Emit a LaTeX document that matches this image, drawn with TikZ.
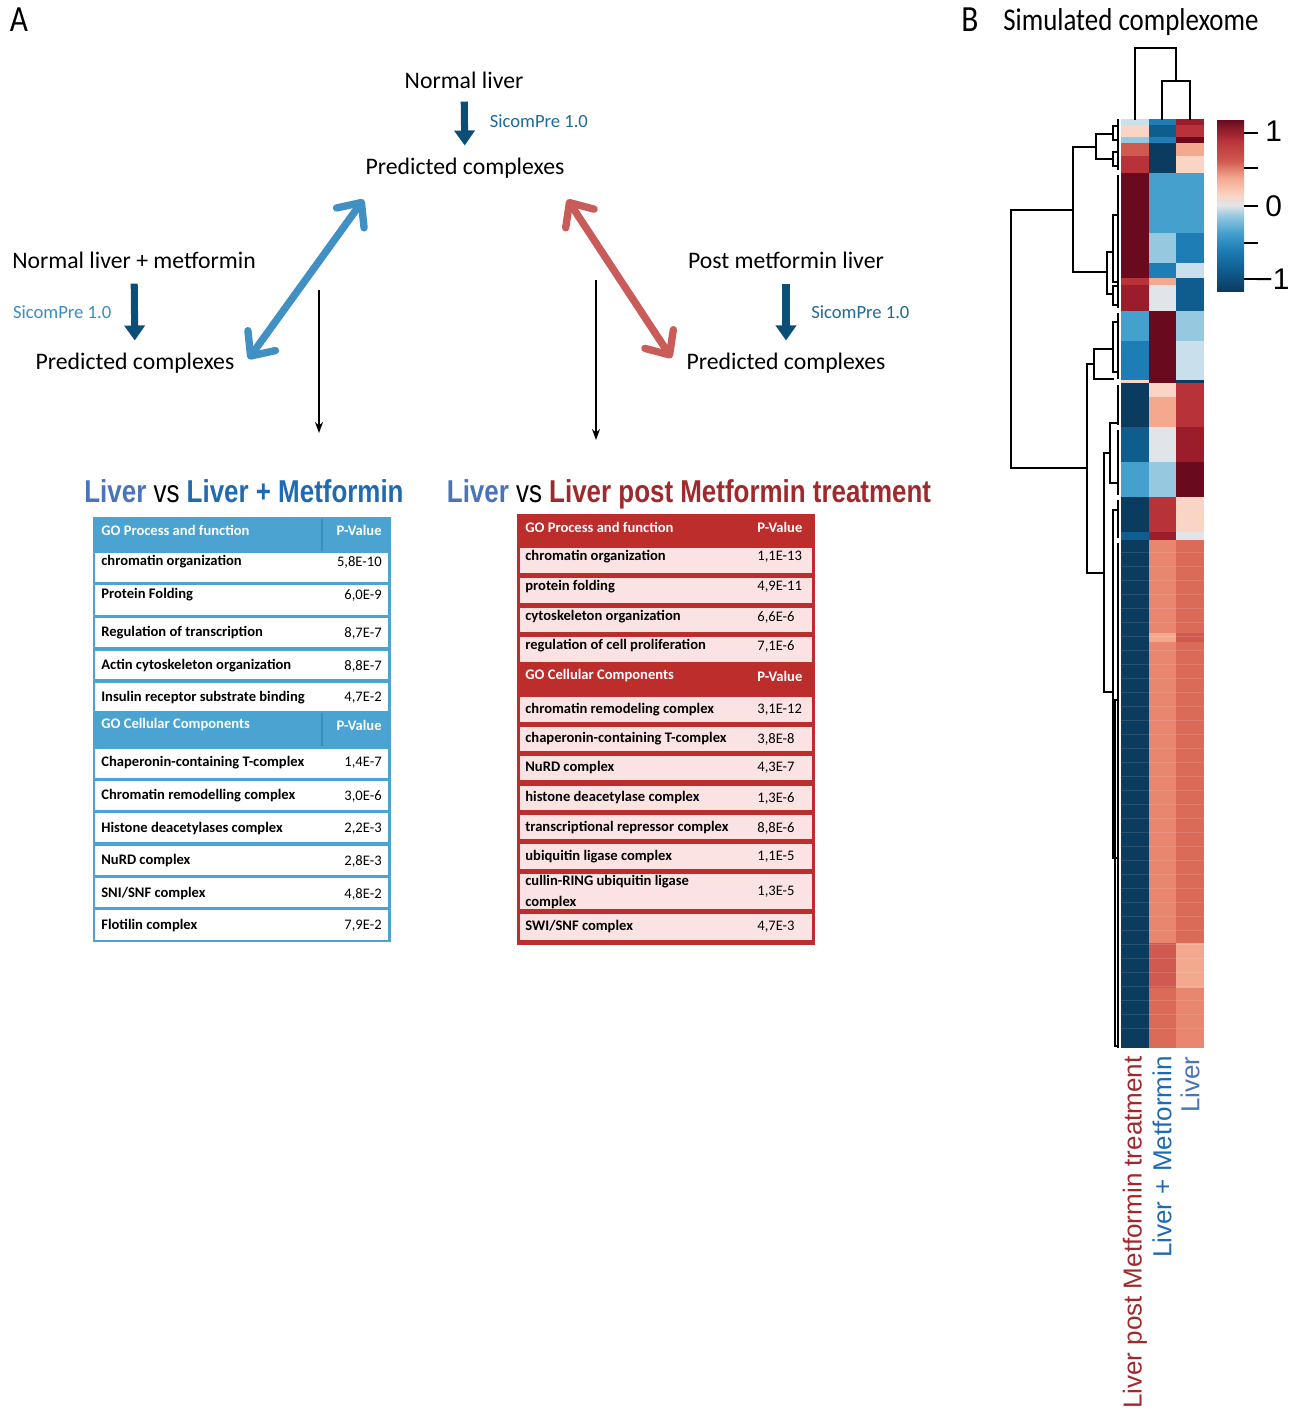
\documentclass[tikz,border=0pt]{standalone}
\usepackage{fontspec}
\setmainfont{Carlito}
\newfontfamily\arialfont{Liberation Sans}
\newfontfamily\narrowfont[FakeStretch=0.82]{Liberation Sans}
\newfontfamily\condfont[FakeStretch=0.85]{Carlito}
\usetikzlibrary{arrows.meta, positioning, calc}

\definecolor{sicomdark}{HTML}{0B4F78}
\definecolor{sicomtext}{HTML}{1D6A98}
\definecolor{sicomlight}{HTML}{3A8CC2}
\definecolor{cmpblue}{HTML}{4190C4}
\definecolor{cmpred}{HTML}{C95B58}
\definecolor{tblblue}{HTML}{4BA3D1}
\definecolor{tbldiv}{HTML}{3A8DBE}
\definecolor{tblred}{HTML}{BC2D2B}
\definecolor{tblpink}{HTML}{FBE3E3}
\definecolor{ttlblue}{HTML}{4A74B9}
\definecolor{ttlblue2}{HTML}{1F6AB3}
\definecolor{ttlred}{HTML}{A0292C}
% heatmap palette (RdBu)
\definecolor{rd5}{HTML}{6A0A1E}
\definecolor{rd4}{HTML}{9B1D2B}
\definecolor{rd3}{HTML}{B8323A}
\definecolor{rd2}{HTML}{D05A50}
\definecolor{rd1}{HTML}{F4A98F}
\definecolor{rd0}{HTML}{FAD4C4}
\definecolor{wt}{HTML}{E1E4E8}
\definecolor{bl0}{HTML}{C9DFEC}
\definecolor{bl1}{HTML}{96C8E0}
\definecolor{bl2}{HTML}{45A0CD}
\definecolor{bl3}{HTML}{1F7DB5}
\definecolor{bl4}{HTML}{0F5C8F}
\definecolor{bl5}{HTML}{0C3B60}
\definecolor{sa1}{HTML}{E8866F}
\definecolor{sa2}{HTML}{DB6A58}
\pgfdeclareverticalshading{rdbu}{50bp}{color(0bp)=(bl5); color(6bp)=(bl4); color(12bp)=(bl3); color(17bp)=(bl2); color(22bp)=(bl1); color(25bp)=(wt); color(28bp)=(rd0); color(33bp)=(rd1); color(38bp)=(rd2); color(44bp)=(rd3); color(50bp)=(rd5)}

\begin{document}
\begin{tikzpicture}[x=0.02cm, y=-0.02cm,
  lbl/.style={font=\fontsize{13.5}{16}\selectfont, inner sep=1pt, text height=10pt, text depth=3pt},
  sicom/.style={font=\fontsize{10.6}{12}\selectfont, text=sicomtext, inner sep=1pt},
  runarrow/.style={-{Triangle[length=0.3cm,width=0.4cm]}, line width=4pt, draw=sicomdark},
  cmparrow/.style={{Straight Barb[length=0.38cm,width=0.68cm,round]}-{Straight Barb[length=0.38cm,width=0.68cm,round]}, line width=4.2pt},
  thinarrow/.style={-{Stealth[length=2.2mm,width=1.6mm]}, line width=0.8pt},
  ttl/.style={font=\narrowfont\bfseries\fontsize{18}{20}\selectfont, inner sep=0pt, anchor=base},
  termtxt/.style={font=\bfseries\fontsize{8.3}{12}\selectfont, anchor=west, inner sep=0pt, align=left},
  pvtxt/.style={font=\fontsize{8.3}{10}\selectfont, inner sep=0pt},
  hdrtxt/.style={font=\bfseries\fontsize{8.3}{10}\selectfont, text=white, inner sep=0pt},
  panel/.style={font=\condfont\fontsize{21}{24}\selectfont, inner sep=0pt},
  hmlabel/.style={font=\arialfont\fontsize{14.8}{16}\selectfont, rotate=90, anchor=east, inner sep=0pt},
  dendro/.style={line width=0.9pt, line cap=rect}
  ]
  \useasboundingbox (0,0) rectangle (1296,1414);

  % Panel A: prediction flow
  \node[panel] (pA) at (19,20) {A};

  \node[lbl] (nl) at (464,82) {Normal liver};
  \node[lbl] (predN) at (465,168) {Predicted complexes};
  \node[lbl] (nlm) at (134,262) {Normal liver + metformin};
  \node[lbl] (predL) at (135,363) {Predicted complexes};
  \node[lbl] (pml) at (786,262) {Post metformin liver};
  \node[lbl] (predR) at (786,363) {Predicted complexes};

  \draw[runarrow, shorten <=0.12cm, shorten >=0.18cm] (nl) -- (predN)
    node[sicom, midway, right=0.4cm, yshift=0.08cm] (sc1) {SicomPre 1.0};
  \draw[runarrow, shorten <=0.16cm, shorten >=0.18cm] (nlm) -- (predL)
    node[sicom, text=sicomlight, midway, left=0.36cm] (sc2) {SicomPre 1.0};
  \draw[runarrow, shorten <=0.16cm, shorten >=0.18cm] (pml) -- (predR)
    node[sicom, midway, right=0.4cm] (sc3) {SicomPre 1.0};

  % comparison arrows
  \draw[cmparrow, draw=cmpblue] ($(predL.east)+(12,-4)$) -- ($(predN.south west)+(0,18)$);
  \draw[cmparrow, draw=cmpred] ($(predN.south east)+(1,18)$) -- ($(predR.west)+(-13,-5)$);

  \coordinate (dlA) at (319,290);
  \coordinate (dlB) at (319,433);
  \coordinate (drA) at (596,280);
  \coordinate (drB) at (596,440);
  \draw[thinarrow] (dlA) -- (dlB);
  \draw[thinarrow] (drA) -- (drB);

  % table titles
  \node[ttl] (tL) at (244,502) {\textcolor{ttlblue}{Liver} \mdseries vs \bfseries\textcolor{ttlblue2}{Liver + Metformin}};
  \node[ttl] (tR) at (689,502) {\textcolor{ttlblue}{Liver} \mdseries vs \bfseries\textcolor{ttlred}{Liver post Metformin treatment}};

  % blue table
  \fill[tblblue] (93,517) rectangle (391,942);
  \draw[tbldiv, line width=0.8pt] (322,519) -- (322,551);
  \draw[tbldiv, line width=0.8pt] (322,713) -- (322,746);
  \node[hdrtxt, anchor=west] (bh1) at (101,530) {GO Process and function};
  \node[hdrtxt, anchor=east] (bh1v) at (382,530) {P-Value};
  \node[hdrtxt, anchor=west] (bh2) at (101,725) {GO Cellular Components};
  \node[hdrtxt, anchor=east] (bh2v) at (382,725) {P-Value};
  \foreach \nm/\ya/\yb/\yt/\term/\pv in {
      bp1/553/582/562/chromatin organization/{5,8E-10},
      bp2/585/615/595/Protein Folding/{6,0E-9},
      bp3/618/647/633/Regulation of transcription/{8,7E-7},
      bp4/651/679/666/Actin cytoskeleton organization/{8,8E-7},
      bp5/683/711/698/Insulin receptor substrate binding/{4,7E-2},
      bc1/749/778/763/Chaperonin-containing T-complex/{1,4E-7},
      bc2/781/810/796/Chromatin remodelling complex/{3,0E-6},
      bc3/813/842/829/Histone deacetylases complex/{2,2E-3},
      bc4/846/875/861/NuRD complex/{2,8E-3},
      bc5/878/907/894/{SNI/SNF complex}/{4,8E-2},
      bc6/910/940/926/Flotilin complex/{7,9E-2}}{
    \fill[white] (95,\ya) rectangle (388,\yb);
    \node[termtxt] (\nm) at (101,\yt) {\term};
    \node[pvtxt, anchor=east] (\nm-pv) at (382,\yt) {\pv};
  }

  % red table
  \fill[tblred] (517,514) rectangle (815,945);
  \node[hdrtxt, anchor=west] (rh1) at (525,527) {GO Process and function};
  \node[hdrtxt, anchor=west] (rh1v) at (757,527) {P-Value};
  \node[hdrtxt, anchor=west] (rh2) at (525,676) {GO Cellular Components};
  \node[hdrtxt, anchor=west] (rh2v) at (757,676) {P-Value};
  \foreach \nm/\ya/\yb/\yt/\term/\pv in {
      rp1/548/573/557/chromatin organization/{1,1E-13},
      rp2/578/603/587/protein folding/{4,9E-11},
      rp3/608/632/617/cytoskeleton organization/{6,6E-6},
      rp4/637/662/646/regulation of cell proliferation/{7,1E-6},
      rc1/697/722/710/chromatin remodeling complex/{3,1E-12},
      rc2/727/751/739/chaperonin-containing T-complex/{3,8E-8},
      rc3/756/780/768/NuRD complex/{4,3E-7},
      rc4/786/810/798/histone deacetylase complex/{1,3E-6},
      rc5/815/839/828/transcriptional repressor complex/{8,8E-6},
      rc6/844/869/857/ubiquitin ligase complex/{1,1E-5},
      rc7/874/909/892/{cullin-RING ubiquitin ligase\\complex}/{1,3E-5},
      rc8/914/940/927/{SWI/SNF complex}/{4,7E-3}}{
    \fill[tblpink] (520,\ya) rectangle (812,\yb);
    \node[termtxt] (\nm) at (525,\yt) {\term};
    \node[pvtxt, anchor=west] (\nm-pv) at (757,\yt) {\pv};
  }

  % Panel B: simulated complexome heatmap
  \node[panel] (pB) at (970,20) {B};
  \node[panel, font=\condfont\fontsize{18}{20}\selectfont, anchor=west] (simT) at (1003,22) {Simulated complexome};

  \foreach \ya/\yb/\ca/\cb/\cc in {
      119/125/bl0/bl3/rd4, 125/137/rd0/bl4/rd3, 137/143/bl1/bl3/rd5,
      143/156/rd2/bl5/rd1, 156/173/rd3/bl5/rd0, 173/233/rd5/bl2/bl2,
      233/263/rd5/bl1/bl3, 263/278/rd5/bl3/bl0, 278/285/rd3/rd1/bl4,
      285/311/rd4/wt/bl4, 311/341/bl2/rd5/bl1, 341/380/bl3/rd5/bl0,
      380/383/rd0/rd5/bl5, 383/397/bl5/rd0/rd3, 397/427/bl5/rd1/rd3,
      427/462/bl4/wt/rd4, 462/497/bl2/bl1/rd5, 497/532/bl5/rd3/rd0,
      532/540/bl4/rd4/wt, 540/633/bl5/sa1/sa2, 633/642/bl5/rd1/rd2,
      642/943/bl5/sa1/sa2, 943/988/bl5/rd2/rd1, 988/1048/bl5/sa2/sa1}{
    \fill[\ca] (1121,\ya) rectangle (1149,\yb);
    \fill[\cb] (1149,\ya) rectangle (1176,\yb);
    \fill[\cc] (1176,\ya) rectangle (1204,\yb);
  }
  \foreach \y in {552,566,...,1040}
    \draw[white, opacity=0.12, line width=0.4pt] (1121,\y) -- (1204,\y);

  % column dendrogram
  \draw[dendro] (1135,119) -- (1135,48) -- (1176,48) -- (1176,81);
  \draw[dendro] (1162,119) -- (1162,81) -- (1190,81) -- (1190,119);

  % row dendrogram
  \draw[dendro] (1073,210) -- (1011,210) -- (1011,468) -- (1087,468);
  \draw[dendro] (1096,147) -- (1073,147) -- (1073,272) -- (1107,272);
  \draw[dendro] (1113,134) -- (1096,134) -- (1096,159) -- (1113,159);
  \draw[dendro] (1117,126) -- (1113,126) -- (1113,140) -- (1117,140);
  \draw[dendro] (1117,152) -- (1113,152) -- (1113,166) -- (1117,166);
  \draw[dendro] (1113,252) -- (1107,252) -- (1107,294) -- (1113,294);
  \draw[dendro] (1117,215) -- (1113,215) -- (1113,282) -- (1117,282);
  \draw[dendro] (1117,286) -- (1113,286) -- (1113,305) -- (1117,305);
  \draw[dendro] (1094,364) -- (1087,364) -- (1087,573) -- (1104,573);
  \draw[dendro] (1113,349) -- (1094,349) -- (1094,379) -- (1113,379);
  \draw[dendro] (1117,322) -- (1113,322) -- (1113,372) -- (1117,372);
  \draw[dendro] (1110,453) -- (1104,453) -- (1104,692) -- (1113,692);
  \draw[dendro] (1117,423) -- (1110,423) -- (1110,483) -- (1117,483);
  \draw[dendro] (1117,510) -- (1113,510) -- (1113,858) -- (1117,858);
  \draw[dendro] (1117,700) -- (1115,700) -- (1115,1046) -- (1117,1046);
  \foreach \ya/\yb in {119/170, 175/308, 313/379, 385/425, 430/495, 500/538, 543/1048}
    \draw[line width=0.7pt] (1118,\ya) -- (1118,\yb);

  % colour bar
  \shade[shading=rdbu] (1217,120) rectangle (1244,291);
  \foreach \y in {133,168,206,243,279}
    \draw[line width=1.1pt] (1244,\y) -- (1258,\y);
  \node[font=\arialfont\fontsize{17}{19}\selectfont, anchor=west, inner sep=0pt] (cb1) at (1265,131) {1};
  \node[font=\arialfont\fontsize{17}{19}\selectfont, anchor=west, inner sep=0pt] (cb0) at (1265,206) {0};
  \node[font=\arialfont\fontsize{17}{19}\selectfont, anchor=west, inner sep=0pt] (cbm) at (1255,279) {−1};

  % column labels
  \node[hmlabel, text=ttlred] (cPost) at (1135,1056) {Liver post Metformin treatment};
  \node[hmlabel, text=ttlblue2] (cMet) at (1162,1056) {Liver + Metformin};
  \node[hmlabel, text=ttlblue] (cLiv) at (1190,1056) {Liver};
\end{tikzpicture}
\end{document}
